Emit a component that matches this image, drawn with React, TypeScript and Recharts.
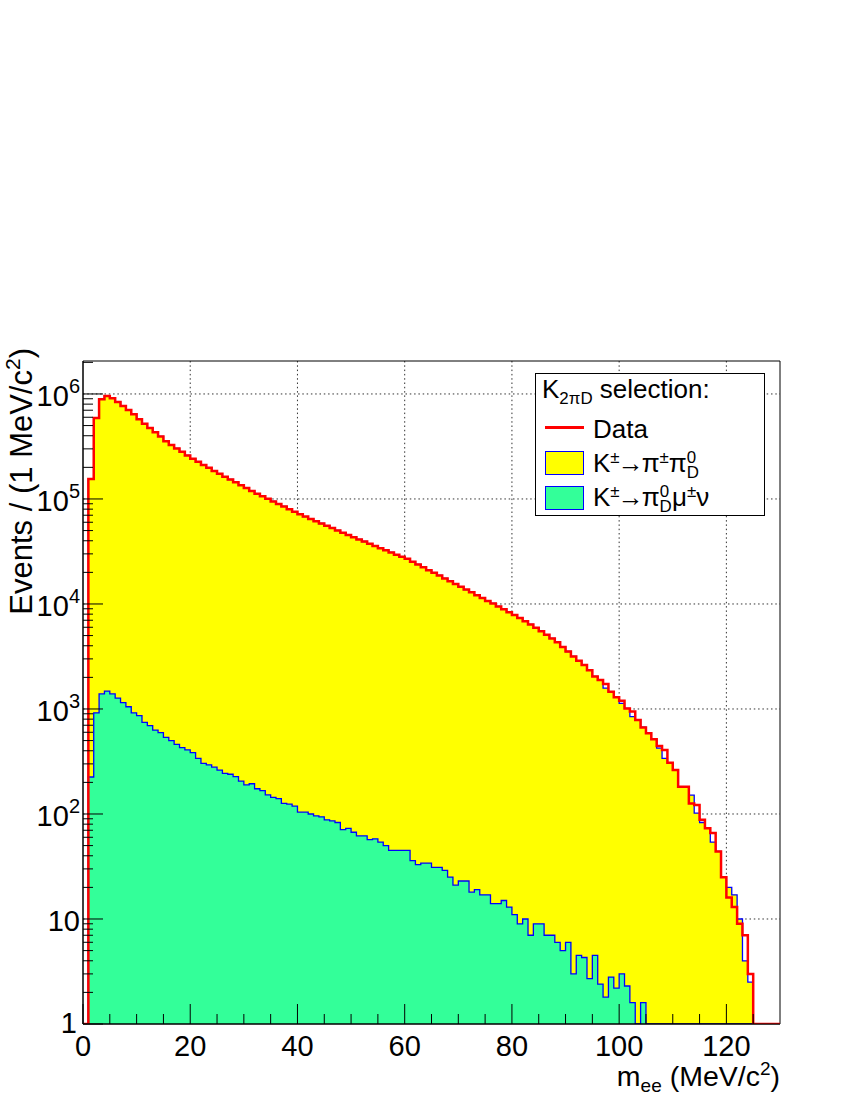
import React from 'react'
import { ComposedChart, Area, Line, XAxis, YAxis, CartesianGrid, ReferenceArea } from 'recharts'

const FONT = '"Liberation Sans", Arial, Helvetica, sans-serif'

// bin contents, 1 MeV/c2 bins, first bin starts at m_ee = 0
const dataCounts = [
  0, 155000, 589000, 891000, 955000, 910000, 839000, 769000, 705000, 641000,
  575000, 521000, 474000, 433000, 394000, 355000, 327000, 303000, 281000, 260000,
  242000, 226000, 211000, 198000, 185000, 174000, 163000, 153000, 144000, 135000,
  127000, 119000, 112000, 106000, 100200, 94800, 89500, 84700, 80000, 75700,
  71500, 67900, 64600, 61400, 58300, 55600, 52800, 50200, 47800, 45400,
  43200, 41100, 39300, 37400, 35700, 34000, 32400, 31000, 29500, 28200,
  26900, 25300, 23800, 22400, 21000, 19800, 18700, 17500, 16500, 15500,
  14600, 13700, 12900, 12100, 11400, 10700, 10100, 9460, 8890, 8360,
  7850, 7350, 6850, 6380, 5930, 5500, 5080, 4690, 4320, 3900,
  3520, 3160, 2880, 2630, 2340, 2040, 1890, 1730, 1460, 1290,
  1200, 1010, 944, 785, 668, 586, 514, 445, 407, 308,
  262, 182, 182, 126, 122, 88, 73, 66, 44, 25,
  16, 13, 9, 7, 3,
]

const k2piCounts = [
  0, 155000, 589000, 891000, 955000, 910000, 839000, 769000, 705000, 641000,
  575000, 521000, 474000, 433000, 394000, 355000, 327000, 303000, 281000, 260000,
  242000, 226000, 211000, 198000, 185000, 174000, 163000, 153000, 144000, 135000,
  127000, 119000, 112000, 106000, 100200, 94800, 89500, 84700, 80000, 75700,
  71500, 67900, 64600, 61400, 58300, 55600, 52800, 50200, 47800, 45400,
  43200, 41100, 39300, 37400, 35700, 34000, 32400, 31000, 29500, 28200,
  26900, 25300, 23800, 22400, 21000, 19800, 18700, 17500, 16500, 15500,
  14600, 13700, 12900, 12100, 11400, 10700, 10100, 9460, 8890, 8360,
  7850, 7350, 6850, 6380, 5930, 5500, 5080, 4690, 4320, 3900,
  3520, 3160, 2880, 2630, 2340, 2040, 1890, 1580, 1460, 1290,
  1130, 1010, 845, 785, 668, 586, 514, 423, 339, 308,
  262, 182, 182, 151, 102, 83, 73, 54, 44, 25,
  20, 17, 10, 4, 2.5,
]

const kmu3Counts = [
  0, 225, 920, 1390, 1480, 1390, 1270, 1150, 1050, 920,
  863, 747, 695, 630, 595, 537, 499, 461, 428, 407,
  384, 339, 304, 294, 279, 262, 244, 239, 227, 206,
  189, 194, 174, 167, 152, 144, 140, 126, 124, 119,
  104, 104, 100, 96, 94, 88, 86, 83, 71, 73,
  67, 62, 62, 57, 58, 54, 50, 45, 45, 45,
  45, 36, 33, 34, 34, 31, 31, 29, 25, 21,
  23, 23, 18, 19, 17, 17, 14, 14, 15, 13,
  11, 9, 10, 7, 9, 9, 7, 7, 6, 5,
  6, 3, 4.5, 4.3, 2.7, 4.5, 2.4, 1.8, 2.8, 2.2,
  3, 2.3, 1.6, 0, 1.6,
]

const xMax = 130
const yMin = 1
const yMax = 2.06e6

const xTicks = [0, 5, 10, 15, 20, 25, 30, 35, 40, 45, 50, 55, 60, 65, 70, 75, 80, 85, 90, 95, 100, 105, 110, 115, 120, 125]
const xGrid = [20, 40, 60, 80, 100, 120]
const yDecades = [1, 10, 100, 1000, 10000, 100000, 1000000]
const yMinorMult = [2, 3, 4, 5, 6, 7, 8, 9]
const yGrid = [10, 100, 1000, 10000, 100000, 1000000]

const yTicks = yDecades
  .flatMap(d => [d, ...yMinorMult.map(m => m * d)])
  .filter(v => v <= yMax)

// histogram rows at bin low edges, plus a closing edge at xMax
const rows = Array.from({ length: xMax + 1 }, (_, i) => {
  const j = Math.min(i, xMax - 1)
  const d = dataCounts[j] ?? 0
  const pi = k2piCounts[j] ?? 0
  const mu = kmu3Counts[j] ?? 0
  return {
    x: i,
    data: Math.max(d, yMin),
    stack: Math.max(pi + mu, yMin),
    kmu: Math.max(mu, yMin),
  }
})

function XTick(props: any) {
  const { x, y, payload } = props
  const v = payload.value
  const major = v % 20 === 0
  return (
    <g>
      <line x1={x} x2={x} y1={y} y2={y - (major ? 20 : 10)} stroke="#000" strokeWidth={1} />
      {major && (
        <text x={x} y={y + 32} textAnchor="middle" fontSize={29} fontFamily={FONT} fill="#000">
          {v}
        </text>
      )}
    </g>
  )
}

function YTick(props: any) {
  const { x, y, payload } = props
  const v = payload.value
  const lg = Math.log10(v)
  const e = Math.round(lg)
  const major = Math.abs(lg - e) < 1e-6
  return (
    <g>
      <line x1={x} x2={x + (major ? 20 : 10)} y1={y} y2={y} stroke="#000" strokeWidth={1} />
      {major && (
        <text x={x - (e === 0 ? 6 : 3)} y={y + (e === 0 ? 9 : 12)} textAnchor="end" fontSize={29} fontFamily={FONT} fill="#000">
          {e === 0 ? '1' : '10'}
          {e > 1 && <tspan dy={-13} fontSize={20}>{e}</tspan>}
        </text>
      )}
    </g>
  )
}

const legendText: React.CSSProperties = {
  position: 'absolute',
  fontSize: 26,
  lineHeight: '26px',
  fontFamily: FONT,
  whiteSpace: 'nowrap',
  color: '#000',
}
const sup: React.CSSProperties = { fontSize: '0.65em', lineHeight: 0, verticalAlign: '0.55em' }
const sub: React.CSSProperties = { fontSize: '0.65em', lineHeight: 0, verticalAlign: '-0.35em' }
const arrow: React.CSSProperties = { margin: '0 -2px' }

function PiD() {
  return (
    <span>
      π<span style={sub}>D</span>
      <span style={{ ...sup, marginLeft: '-0.72em', marginRight: '0.17em' }}>0</span>
    </span>
  )
}

function Legend() {
  return (
    <div style={{ position: 'absolute', left: 535, top: 373, width: 228, height: 141, border: '1px solid #000', background: '#fff' }}>
      <div style={{ ...legendText, left: 6, top: 2 }}>
        K<span style={sub}>2πD</span> selection:
      </div>
      <div style={{ position: 'absolute', left: 9, top: 52, width: 39, height: 2.5, background: '#ff0000' }} />
      <div style={{ ...legendText, left: 57, top: 42 }}>Data</div>
      <div style={{ position: 'absolute', left: 9, top: 77, width: 37, height: 22, background: '#ffff00', border: '1px solid #0000ff' }} />
      <div style={{ ...legendText, left: 57, top: 76 }}>
        K<span style={sup}>±</span><span style={arrow}>→</span>π<span style={sup}>±</span><PiD />
      </div>
      <div style={{ position: 'absolute', left: 9, top: 112, width: 37, height: 22, background: '#33ff99', border: '1px solid #0000ff' }} />
      <div style={{ ...legendText, left: 57, top: 110 }}>
        K<span style={sup}>±</span><span style={arrow}>→</span><PiD />μ<span style={sup}>±</span>ν
      </div>
    </div>
  )
}

export default function App() {
  return (
    <div style={{ position: 'absolute', left: 0, top: 0, width: 850, height: 1100, background: '#fff' }}>
      <ComposedChart width={850} height={1100} data={rows} margin={{ top: 361, right: 70, bottom: 0, left: 0 }}>
        <CartesianGrid
          stroke="#333"
          strokeDasharray="1.5 2.8"
          horizontalValues={yGrid}
          verticalValues={xGrid}
        />
        <XAxis
          dataKey="x"
          type="number"
          domain={[0, xMax]}
          ticks={xTicks}
          interval={0}
          height={76}
          tickSize={0}
          tickMargin={0}
          tickLine={false}
          axisLine={{ stroke: '#000' }}
          tick={(p: any) => <XTick {...p} />}
          allowDataOverflow
        />
        <YAxis
          type="number"
          scale="log"
          domain={[yMin, yMax]}
          ticks={yTicks}
          interval={0}
          width={83}
          tickSize={0}
          tickMargin={0}
          tickLine={false}
          axisLine={{ stroke: '#000' }}
          tick={(p: any) => <YTick {...p} />}
          allowDataOverflow
        />
        <Area
          type="stepAfter"
          dataKey="stack"
          baseValue={yMin}
          fill="#ffff00"
          fillOpacity={1}
          stroke="#0000ff"
          strokeWidth={1.3}
          dot={false}
          activeDot={false}
          isAnimationActive={false}
        />
        <Area
          type="stepAfter"
          dataKey="kmu"
          baseValue={yMin}
          fill="#33ff99"
          fillOpacity={1}
          stroke="#0000ff"
          strokeWidth={1.3}
          dot={false}
          activeDot={false}
          isAnimationActive={false}
        />
        <Line
          type="stepAfter"
          dataKey="data"
          stroke="#ff0000"
          strokeWidth={2.5}
          dot={false}
          activeDot={false}
          isAnimationActive={false}
        />
        <ReferenceArea x1={0} x2={xMax} y1={yMin} y2={yMax} fill="none" stroke="#000" strokeWidth={1} ifOverflow="visible" />
      </ComposedChart>

      <svg width={850} height={1100} style={{ position: 'absolute', left: 0, top: 0, pointerEvents: 'none' }}>
        <text transform="translate(32,348) rotate(-90)" textAnchor="end" fontSize={31} fontFamily={FONT} fill="#000">
          Events / (1 MeV/c<tspan dy={-12} fontSize={21}>2</tspan>
          <tspan dy={12}>)</tspan>
        </text>
        <text x={780} y={1086} textAnchor="end" fontSize={28.5} fontFamily={FONT} fill="#000">
          m<tspan dy={6} fontSize={19}>ee</tspan>
          <tspan dy={-6}> (MeV/c</tspan>
          <tspan dy={-11} fontSize={19}>2</tspan>
          <tspan dy={11}>)</tspan>
        </text>
      </svg>

      <Legend />
    </div>
  )
}
